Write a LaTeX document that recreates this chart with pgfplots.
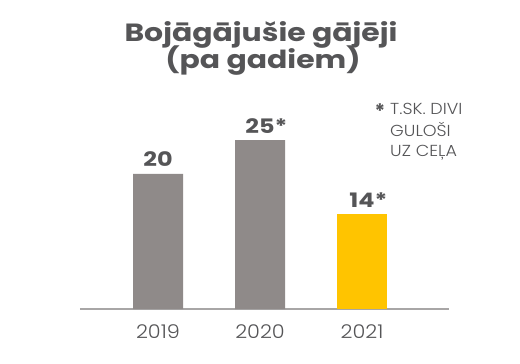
\documentclass[border=0pt]{standalone}
\usepackage{pgfplots}
\pgfplotsset{compat=1.18}
\usepackage{fontspec}
\setmainfont{Poppins}
\newfontfamily\titlefont[FakeStretch=1.2]{Poppins}
\newfontfamily\lightfont[FakeStretch=1.1]{Poppins Light}
\definecolor{bargray}{HTML}{8F8A89}
\definecolor{baryellow}{HTML}{FFC400}
\definecolor{txtgray}{HTML}{555557}
\definecolor{axgray}{HTML}{A8A6A6}
\begin{document}
\begin{tikzpicture}
\path[use as bounding box] (0,0) rectangle (520bp,364bp);
\begin{axis}[
  at={(158bp,55bp)}, anchor=origin,
  x=102bp, y=6.75bp,
  xmin=-0.765, xmax=2.853, ymin=0, ymax=30,
  axis x line=bottom, axis y line=none,
  axis line style={axgray, line width=1.6bp, -},
  xtick={0,1,2}, xticklabels={2019,2020,2021},
  major tick length=0pt,
  xticklabel style={font=\lightfont\fontsize{19}{19}\selectfont, text=txtgray, anchor=base, yshift=-29bp},
  ybar, bar width=50bp,
  nodes near coords,
  point meta=explicit symbolic,
  every node near coord/.append style={font=\titlefont\bfseries\fontsize{20}{20}\selectfont, text=txtgray, anchor=base, yshift=7bp, inner sep=0pt},
  clip=false,
]
\addplot[fill=bargray, draw=none, bar shift=0pt] coordinates {(0,20) [20] (1,25) [25\rlap{*}]};
\addplot[fill=baryellow, draw=none, bar shift=0pt] coordinates {(2,14) [14\rlap{*}]};
\end{axis}
\node[anchor=base, font=\titlefont\bfseries\fontsize{25}{25}\selectfont, text=txtgray] at (261bp,322bp) {Bojāgājušie gājēji};
\node[anchor=base, font=\titlefont\bfseries\fontsize{25}{25}\selectfont, text=txtgray] at (263bp,295bp) {(pa gadiem)};
\node[font=\bfseries\fontsize{20}{20}\selectfont, text=txtgray, inner sep=0pt] at (380bp,253bp) {*};
\node[anchor=base west, font=\lightfont\fontsize{16}{16}\selectfont, text=txtgray, inner sep=0pt] at (390bp,249bp) {T.SK. DIVI};
\node[anchor=base west, font=\lightfont\fontsize{16}{16}\selectfont, text=txtgray, inner sep=0pt] at (390bp,227bp) {GULOŠI};
\node[anchor=base west, font=\lightfont\fontsize{16}{16}\selectfont, text=txtgray, inner sep=0pt] at (390bp,207bp) {UZ CEĻA};
\end{tikzpicture}
\end{document}
